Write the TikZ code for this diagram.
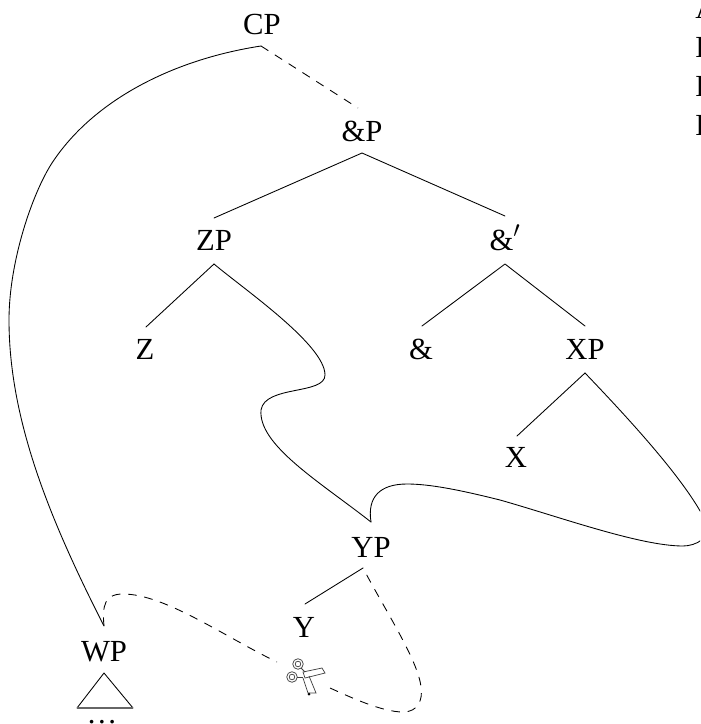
\documentclass[tikz,border=0pt]{standalone}
\usepackage{fontspec}
\setmainfont{Liberation Serif}
\tikzset{
  lbl/.style={font=\fontsize{23}{25}\selectfont, inner sep=0pt, anchor=base},
  edge/.style={line width=0.65pt, line cap=round, line join=round},
  dashline/.style={line width=0.65pt, dash pattern=on 6.5pt off 5.8pt},
  ring/.style={draw=black!75, line width=0.55pt}
}
\begin{document}
\begin{tikzpicture}[x=0.75pt,y=-0.75pt]
\useasboundingbox (0,0) rectangle (700,724);
\clip (0,0) rectangle (700,724);
\node[lbl] (CP) at (262,35) {CP};
\node[lbl] (AP) at (362,141) {\&P};
\node[lbl] (ZP) at (214,250) {ZP};
\node[lbl] (Ab) at (505,250) {\&$'$};
\node[lbl] (Z) at (145,359) {Z};
\node[lbl] (A) at (421,359) {\&};
\node[lbl] (XP) at (585,359) {XP};
\node[lbl] (X) at (516,467) {X};
\node[lbl] (YP) at (371,557) {YP};
\node[lbl] (Y) at (304,637) {Y};
\node[lbl] (WP) at (104,661) {WP};
\node[lbl] (dots) at (102,723) {\dots};
\node[lbl,anchor=base west] (t1) at (695,19) {A};
\node[lbl,anchor=base west] (t2) at (695,58) {E};
\node[lbl,anchor=base west] (t3) at (695,97) {E};
\node[lbl,anchor=base west] (t4) at (695,135) {E};
\coordinate (cpb) at (261,46);
\coordinate (apt) at (358,108);
\coordinate (apb) at (362,153);
\coordinate (zpt) at (214,218);
\coordinate (abt) at (505,216);
\coordinate (zpb) at (214,264);
\coordinate (zt) at (146,327);
\coordinate (abb) at (505,264);
\coordinate (at) at (422,326);
\coordinate (xpt) at (585,326);
\coordinate (xpb) at (585,373);
\coordinate (xt) at (517,436);
\coordinate (ypt) at (371,522);
\coordinate (ypb) at (363,568);
\coordinate (yt) at (305,604);
\coordinate (wpt) at (104,626);
\draw[dashline] (cpb) -- (apt);
\draw[edge] (zpt) -- (apb) -- (abt);
\draw[edge] (zt) -- (zpb);
\draw[edge] (at) -- (abb) -- (xpt);
\draw[edge] (xt) -- (xpb);
\draw[edge] (ypb) -- (yt);
% curves
\draw[edge] (zpb) .. controls (245,290) and (325,345) .. (325,375)
  .. controls (325,395) and (265,385) .. (261,410)
  .. controls (258,445) and (320,482) .. (ypt);
\draw[edge] (xpb) .. controls (630,420) and (685,480) .. (705,520)
  .. controls (714,538) and (695,546) .. (683,546)
  .. controls (640,546) and (560,517) .. (500,500)
  .. controls (460,490) and (430,484) .. (407,484)
  .. controls (380,484) and (367,497) .. (ypt);
\draw[edge] (cpb) .. controls (170,60) and (92,102) .. (52,163)
  .. controls (32,194) and (9,262) .. (9,320)
  .. controls (9,420) and (50,520) .. (wpt);
\draw[dashline] (wpt) .. controls (102,605) and (105,594) .. (123,594)
  .. controls (165,594) and (225,637) .. (277,662);
\draw[dashline] (330,688) .. controls (350,697) and (382,712) .. (403,712)
  .. controls (418,712) and (423,700) .. (421,687)
  .. controls (418,660) and (385,610) .. (ypb);
% triangle
\draw[edge] (77,708) -- (104,673) -- (133,708);
\draw[line width=1pt,draw=black!60] (77,708) -- (133,708);
% scissors
\draw[ring] (298,664) circle (5.3);
\draw[ring] (298,664) circle (2.8);
\draw[ring] (292,677) circle (5.3);
\draw[ring] (292,677) circle (2.8);
\draw[ring] (301,668) -- (305,672);
\draw[ring] (297,677) -- (303,677);
\draw[ring] (303,672) -- (322,668) -- (325,673) -- (305,678) -- cycle;
\draw[ring] (303,678) -- (308,693) -- (316,693) -- (309,676);
\fill[black] (309,694) circle (1.5);
\end{tikzpicture}
\end{document}
